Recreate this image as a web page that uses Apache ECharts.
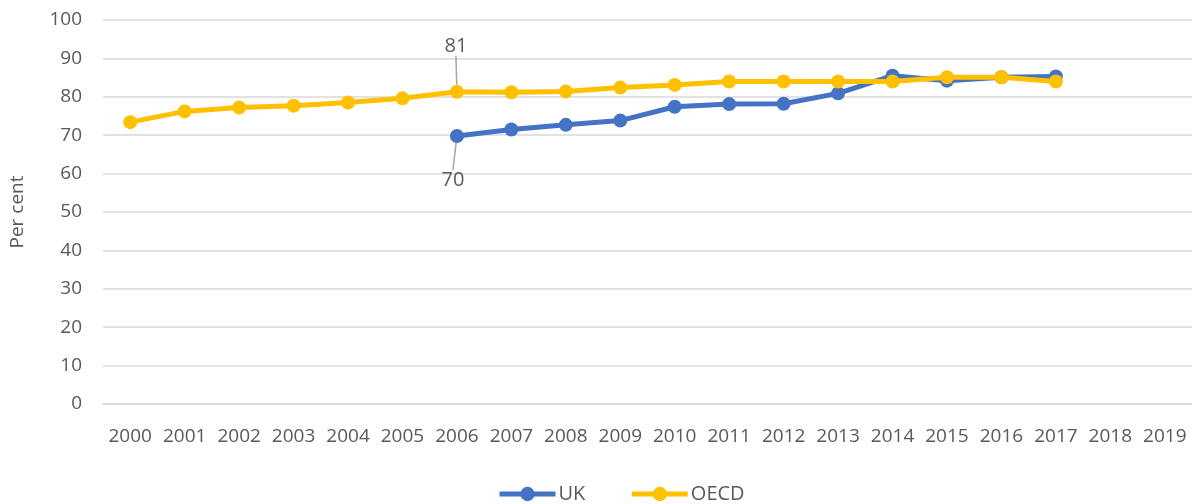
<!DOCTYPE html>
<html>
<head>
<meta charset="utf-8">
<script src="https://cdn.jsdelivr.net/npm/echarts@6/dist/echarts.min.js"></script>
<style>
  html, body { margin: 0; padding: 0; background: #fff; }
  #chart { width: 1192px; height: 504px; }
</style>
</head>
<body>
<div id="chart"></div>
<script>
// Years on the category axis
const years = ['2000','2001','2002','2003','2004','2005','2006','2007','2008','2009',
               '2010','2011','2012','2013','2014','2015','2016','2017','2018','2019'];

// UK series (no data before 2006)
const ukValues = [null, null, null, null, null, null, 69.8, 71.5, 72.7, 73.8,
                  77.4, 78.1, 78.2, 80.9, 85.5, 84.2, 85.1, 85.3, null, null];

// OECD series
const oecdValues = [73.4, 76.2, 77.2, 77.7, 78.5, 79.6, 81.3, 81.2, 81.4, 82.4,
                    83.1, 84.0, 84.0, 84.0, 84.0, 85.1, 85.1, 84.0, null, null];

// Year whose points carry a data label
const labelledYear = '2006';
const labelIndex = years.indexOf(labelledYear);

const axisFont = 'Open Sans';
const textColor = '#595959';
const fontSize = 19;

// Only the labelled year's point gets a label and a leader line
function labelSeries(values, pos, dx, dy) {
  return {
    data: values.map((v, i) => (i === labelIndex && v != null)
      ? { value: v, label: { show: true }, labelLine: { show: true } }
      : v),
    label: {
      show: false,
      position: pos,
      fontFamily: axisFont,
      fontSize: 20,
      color: textColor,
      formatter: p => String(Math.round(p.value))
    },
    labelLayout: p => (p.dataIndex === labelIndex ? { dx: dx, dy: dy } : {}),
    labelLine: { show: false, length2: 0, lineStyle: { color: '#a6a6a6', width: 1.5 } }
  };
}

const chart = echarts.init(document.getElementById('chart'), null, { renderer: 'canvas' });

chart.setOption({
  animation: false,
  grid: { left: 102, right: 0, top: 20, bottom: 100, containLabel: false },
  legend: {
    bottom: -5,
    left: 492,
    itemWidth: 56,
    itemHeight: 18,
    itemGap: 44,
    lineStyle: { width: 5 },
    textStyle: { fontFamily: axisFont, fontSize: 20, color: textColor, padding: [0, 0, 0, -2] },
    data: ['UK', 'OECD']
  },
  xAxis: {
    type: 'category',
    data: years,
    boundaryGap: true,
    axisLine: { show: true, lineStyle: { color: '#d9d9d9', width: 1.5 } },
    axisTick: { show: false },
    axisLabel: { fontFamily: axisFont, fontSize: fontSize, color: textColor, margin: 23, interval: 0 }
  },
  yAxis: {
    type: 'value',
    min: 0,
    max: 100,
    interval: 10,
    name: 'Per cent',
    nameLocation: 'middle',
    nameGap: 76,
    nameTextStyle: { fontFamily: axisFont, fontSize: fontSize, color: textColor },
    axisLine: { show: false },
    axisTick: { show: false },
    axisLabel: { fontFamily: axisFont, fontSize: fontSize, color: textColor, margin: 21 },
    splitLine: { lineStyle: { color: '#d9d9d9', width: 1.5 } }
  },
  series: [
    Object.assign({
      name: 'UK',
      type: 'line',
      connectNulls: false,
      symbol: 'circle',
      symbolSize: 14,
      lineStyle: { color: '#4472C4', width: 5 },
      itemStyle: { color: '#4472C4' },
      z: 2
    }, labelSeries(ukValues, 'bottom', -4, 22)),
    Object.assign({
      name: 'OECD',
      type: 'line',
      symbol: 'circle',
      symbolSize: 14,
      lineStyle: { color: '#FFC000', width: 5 },
      itemStyle: { color: '#FFC000' },
      z: 3
    }, labelSeries(oecdValues, 'top', -1, -24))
  ]
});
</script>
</body>
</html>
